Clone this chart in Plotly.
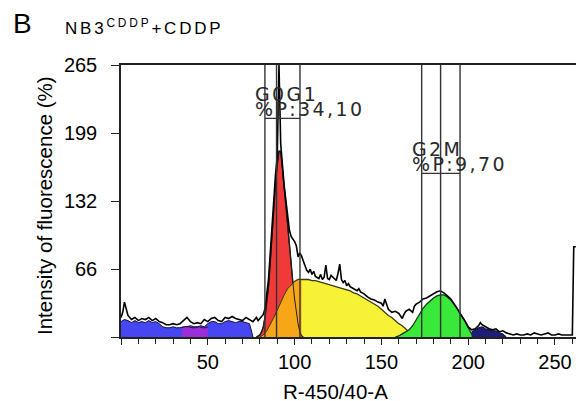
import plotly.graph_objects as go

# ---------------- data ----------------
hist_x = [0, 1, 2, 3, 4, 6, 8, 10, 12, 14, 16, 18, 20, 22, 24, 26, 28, 30, 32, 34, 36, 38, 40,
          42, 44, 46, 48, 50, 52, 54, 56, 58, 60, 62, 64, 66, 68, 70, 72, 74, 76, 78, 79, 80,
          81, 82, 83, 84, 85, 86, 87, 88, 89, 90, 91, 92, 93, 94, 95, 96, 97, 98, 99, 100,
          101, 102, 103, 104, 105, 106, 107, 108, 109, 110, 111, 112, 113, 114, 115, 116, 117,
          118, 119, 120, 121, 122, 123, 124, 125, 126, 127, 128, 129, 130, 131, 132, 134, 136,
          137, 138, 140, 142, 144, 146, 148, 150, 151, 152, 153, 154, 156, 158, 160, 162, 163,
          164, 166, 168, 169, 170, 172, 174, 176, 178, 180, 182, 184, 186, 188, 190, 192, 194,
          196, 198, 200, 202, 204, 206, 207, 208, 210, 212, 214, 216, 218, 220, 222, 224, 226,
          228, 230, 232, 234, 236, 238, 240, 242, 244, 246, 248, 250, 252, 254, 256, 258, 260,
          260.8, 262]
hist_y = [19, 24, 34, 26, 21, 17, 19, 16, 18, 17, 19, 16, 18, 15, 14, 12, 12, 13, 12, 13, 16, 19, 15,
          13, 14, 13, 17, 15, 18, 19, 16, 15, 19, 18, 20, 18, 17, 16, 19, 17, 15, 19, 16, 18,
          20, 22, 28, 40, 57, 82, 108, 136, 158, 176, 265, 188, 166, 147, 133, 118, 104, 98, 96, 93,
          89, 78, 82, 79, 74, 70, 65, 63, 66, 61, 64, 59, 58, 57, 61, 56, 58,
          70, 57, 56, 60, 58, 56, 55, 62, 71, 56, 53, 55, 50, 52, 49, 47, 45,
          47, 44, 42, 39, 37, 36, 34, 33, 30, 37, 32, 27, 24, 25, 23, 18, 22,
          25, 27, 24, 30, 32, 34, 37, 38, 40, 42, 44, 45, 43, 40, 37, 32, 27,
          21, 16, 10, 7, 8, 11, 14, 12, 10, 8, 7, 8, 5, 6, 4, 3, 2,
          3, 2, 2, 3, 2, 4, 3, 2, 3, 4, 2, 2, 3, 2, 2, 2, 2,
          88, 88]

g0g1_x = [78, 79, 80, 81, 82, 83, 84, 85, 86, 87, 88, 89, 90, 91, 92, 93, 94, 95, 96, 97, 98,
          99, 100, 101, 102, 103, 104, 105]
g0g1_y = [0, 1, 2, 5, 10, 20, 34, 50, 73, 102, 128, 150, 168, 181, 181, 166, 146, 128, 108, 87, 70,
          53, 37, 23, 13, 5, 1, 0]

s_x = [80, 82, 84, 86, 88, 90, 92, 94, 96, 98, 100, 102, 104, 106, 108, 110, 112, 114, 116, 118,
       120, 122, 124, 126, 128, 130, 132, 134, 136, 138, 140, 142, 144, 146, 148, 150, 152, 154,
       156, 158, 160, 162, 164, 166, 168, 170, 172]
s_y = [0, 2, 6, 12, 19, 26, 34, 41, 47, 51, 54, 56, 56, 56, 56, 55, 55, 54, 53, 52,
       51, 50, 49, 48, 47, 46, 45, 43, 42, 40, 38, 36, 34, 32, 30, 27, 24, 21,
       19, 16, 13, 11, 8, 5, 3, 1, 0]
s_gate_x = [80, 82, 84, 86, 88, 90, 92, 94, 96, 98, 100, 102, 104]
s_gate_y = [0, 2, 6, 12, 19, 26, 34, 41, 47, 51, 54, 56, 56]

g2m_x = [158, 160, 162, 164, 166, 168, 170, 172, 174, 176, 178, 180, 182, 184, 186, 188, 190, 192,
         194, 196, 198, 200, 202, 203]
g2m_y = [0, 1, 3, 5, 7, 11, 17, 23, 28, 32, 35, 38, 40, 41, 41, 39, 36, 32, 27, 21, 16, 9, 2, 0]

debris_x = [0, 2, 4, 6, 8, 10, 12, 14, 16, 18, 20, 22, 24, 26, 28, 30, 32, 34, 36, 38, 40, 42, 44,
            46, 48, 50, 52, 54, 56, 58, 60, 62, 64, 66, 68, 70, 72, 74, 75, 76]
debris_y = [15, 17, 16, 14, 16, 14, 15, 14, 16, 14, 15, 13, 10, 9, 9, 10, 9, 9, 10, 10, 11, 10, 10,
            11, 10, 13, 15, 15, 13, 13, 15, 16, 15, 14, 15, 15, 14, 13, 7, 0]
aggr_x = [35, 37, 39, 41, 43, 45, 47, 49, 50]
aggr_y = [9, 10, 10, 9, 9, 10, 9, 9, 10]
tail_x = [202, 204, 206, 208, 210, 212, 214, 216, 218, 220, 222]
tail_y = [5, 7, 9, 10, 8, 7, 6, 6, 4, 3, 0]

gates_g0g1 = [82.9, 89.6, 103.1]
gates_g2m = [173.2, 184.1, 195.3]
bar_g0g1_y = 213
bar_g2m_y = 159.5

x_ticks = [0, 50, 100, 150, 200, 250]
x_ticktext = ["", "50", "100", "150", "200", "250"]
y_ticks = [0, 66.25, 132.5, 198.75, 265]
y_ticktext = ["", "66", "132", "199", "265"]

# ---------------- figure ----------------
fig = go.Figure()


def area(x, y, fill, lc, lw):
    fig.add_trace(go.Scatter(x=x, y=y, mode="lines", fill="tozeroy", fillcolor=fill,
                             line=dict(color=lc, width=lw), hoverinfo="skip", showlegend=False))


area(s_x, s_y, "#f8f236", "#3a3a10", 1.3)
area(g2m_x, g2m_y, "#3ae83a", "#113311", 1.3)
area(debris_x, debris_y, "#4646f2", "#101040", 1.0)
area(aggr_x, aggr_y, "#9a2fd8", "#30104a", 1.0)
area(tail_x, tail_y, "#1e1e78", "#0a0a30", 1.0)
area(g0g1_x, g0g1_y, "#f03a3a", "#111111", 1.4)
area(s_gate_x, s_gate_y, "#f7a617", "#3a3a10", 1.0)
# G0G1 outline redrawn over the orange overlap
fig.add_trace(go.Scatter(x=g0g1_x, y=g0g1_y, mode="lines", line=dict(color="#222", width=1.0),
                         hoverinfo="skip", showlegend=False))

fig.add_trace(go.Scatter(x=hist_x, y=hist_y, mode="lines", line=dict(color="#000000", width=1.6),
                         hoverinfo="skip", showlegend=False))

shapes = []
for gx in gates_g0g1 + gates_g2m:
    shapes.append(dict(type="line", xref="x", yref="y", x0=gx, x1=gx, y0=0, y1=265,
                       line=dict(color="#333333", width=1.4), layer="above"))
shapes.append(dict(type="line", xref="x", yref="y", x0=gates_g0g1[0], x1=gates_g0g1[-1],
                   y0=bar_g0g1_y, y1=bar_g0g1_y, line=dict(color="#333333", width=1.2), layer="above"))
shapes.append(dict(type="line", xref="x", yref="y", x0=gates_g2m[0], x1=gates_g2m[-1],
                   y0=bar_g2m_y, y1=bar_g2m_y, line=dict(color="#333333", width=1.2), layer="above"))

W, H = 576, 401
L, R, T, B = 121, 0, 65, 64
pw, ph = W - L - R, H - T - B


def px(xp):
    return (xp - L) / pw


def py(yp):
    return (H - B - yp) / ph


gate_font = dict(family="DejaVu Sans", size=19, color="#2a2a2a")
sp = '<span style="letter-spacing:2.4px">%s</span>'
ann = [
    dict(x=76.3, y=237, xref="x", yref="y", text=sp % "G0G1", showarrow=False, xanchor="left",
         yanchor="middle", font=gate_font),
    dict(x=76.3, y=222.5, xref="x", yref="y", text=sp % "%P:34,10", showarrow=False,
         xanchor="left", yanchor="middle", font=gate_font),
    dict(x=166.5, y=183, xref="x", yref="y", text=sp % "G2M", showarrow=False, xanchor="left",
         yanchor="middle", font=gate_font),
    dict(x=166.5, y=168.5, xref="x", yref="y", text=sp % "%P:9,70", showarrow=False,
         xanchor="left", yanchor="middle", font=gate_font),
    dict(x=px(11), y=py(23), xref="paper", yref="paper", text="B", showarrow=False,
         xanchor="left", yanchor="middle",
         font=dict(family="Liberation Sans", size=28, color="black")),
    dict(x=px(63), y=py(27), xref="paper", yref="paper",
         text='<span style="letter-spacing:2.8px">NB3<sup>CDDP</sup>+CDDP</span>',
         showarrow=False, xanchor="left", yanchor="middle",
         font=dict(family="Liberation Sans", size=17, color="black")),
    dict(x=px(45), y=py(206), xref="paper", yref="paper", text="Intensity of fluorescence (%)",
         showarrow=False, textangle=-90, xanchor="center", yanchor="middle",
         font=dict(family="Liberation Sans", size=20.5, color="black")),
    dict(x=px(335), y=py(391), xref="paper", yref="paper", text="R-450/40-A",
         showarrow=False, xanchor="center", yanchor="middle",
         font=dict(family="Liberation Sans", size=20.5, color="black")),
]

fig.update_layout(
    width=W, height=H,
    margin=dict(l=L, r=R, t=T, b=B, pad=0),
    paper_bgcolor="white", plot_bgcolor="white",
    shapes=shapes, annotations=ann,
    font=dict(family="Liberation Sans", size=20, color="black"),
)
fig.update_xaxes(range=[0, 262.1], showgrid=False, zeroline=False, showline=True, mirror=True,
                 linecolor="#222", linewidth=1.5, ticks="outside", ticklen=6, tickwidth=1.3,
                 tickcolor="#222", tickvals=x_ticks, ticktext=x_ticktext,
                 tickfont=dict(family="Liberation Sans", size=20, color="black"),
                 minor=dict(dtick=10, tick0=0, ticks="outside", ticklen=5, tickwidth=1.2,
                            tickcolor="#222", showgrid=False))
fig.update_yaxes(range=[0, 265], showgrid=False, zeroline=False, showline=True, mirror=False,
                 linecolor="#222", linewidth=1.5, ticks="outside", ticklen=8, tickwidth=1.3,
                 tickcolor="#222", tickvals=y_ticks, ticktext=y_ticktext, ticklabelstandoff=10,
                 tickfont=dict(family="Liberation Sans", size=20, color="black"))

fig.write_html("out.html", config={"displayModeBar": False},
               post_script="document.body.style.margin='0';document.body.style.overflow='hidden';")
